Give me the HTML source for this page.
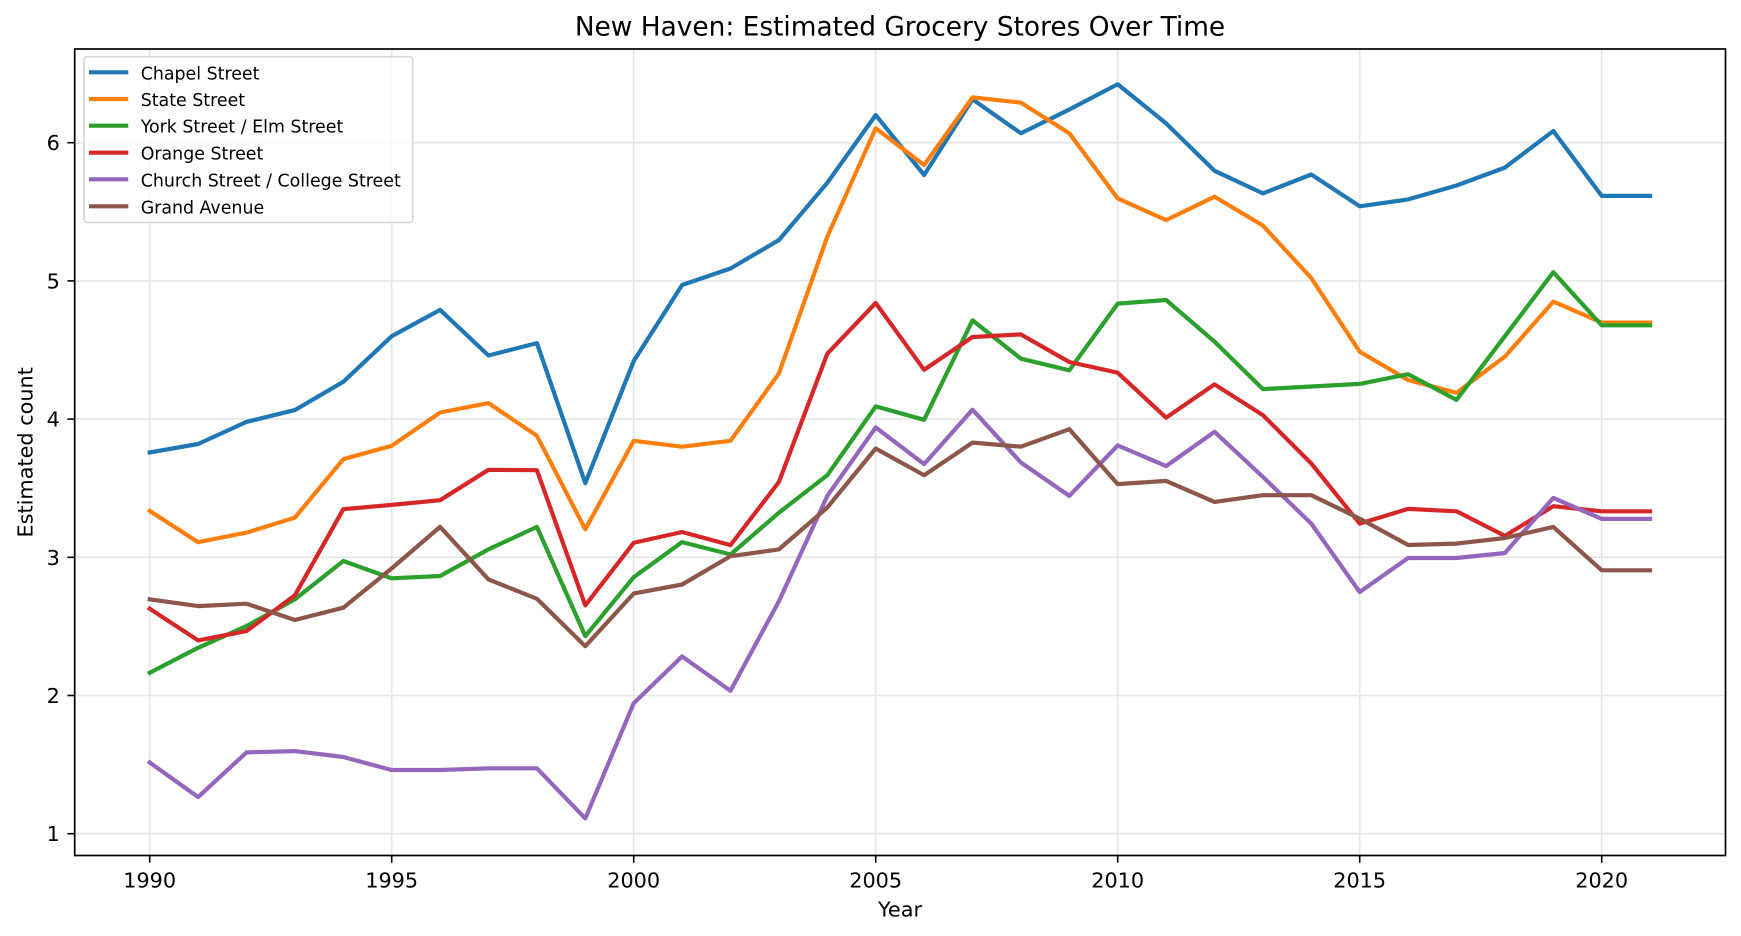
<!DOCTYPE html>
<html>
<head>
<meta charset="utf-8">
<style>
  html, body { margin: 0; padding: 0; background: #ffffff; }
  svg { display: block; }
  text { font-family: "DejaVu Sans", "Liberation Sans", sans-serif; fill: #000; }
</style>
</head>
<body>
<svg width="1741" height="936" viewBox="0 0 1741 936" xmlns="http://www.w3.org/2000/svg">
  <rect x="0" y="0" width="1741" height="936" fill="#ffffff"/>
  <defs>
    <clipPath id="ax">
      <rect x="74.7" y="49" width="1650.8" height="806.5"/>
    </clipPath>
  </defs>

  <!-- grid -->
  <g stroke="#e6e6e6" stroke-width="1.6">
    <line x1="149.7" y1="49" x2="149.7" y2="855.5"/>
    <line x1="391.7" y1="49" x2="391.7" y2="855.5"/>
    <line x1="633.7" y1="49" x2="633.7" y2="855.5"/>
    <line x1="875.7" y1="49" x2="875.7" y2="855.5"/>
    <line x1="1117.7" y1="49" x2="1117.7" y2="855.5"/>
    <line x1="1359.7" y1="49" x2="1359.7" y2="855.5"/>
    <line x1="1601.7" y1="49" x2="1601.7" y2="855.5"/>
    <line x1="74.7" y1="833.7" x2="1725.5" y2="833.7"/>
    <line x1="74.7" y1="695.5" x2="1725.5" y2="695.5"/>
    <line x1="74.7" y1="557.3" x2="1725.5" y2="557.3"/>
    <line x1="74.7" y1="419.1" x2="1725.5" y2="419.1"/>
    <line x1="74.7" y1="280.9" x2="1725.5" y2="280.9"/>
    <line x1="74.7" y1="142.7" x2="1725.5" y2="142.7"/>
  </g>

  <!-- series -->
  <g clip-path="url(#ax)" fill="none" stroke-width="4.2" stroke-linejoin="round" stroke-linecap="square">
    <polyline stroke="#1f77b4" points="149.7,452.5 198.1,444.0 246.5,421.9 294.9,410.1 343.3,381.8 391.7,336.2 440.1,309.9 488.5,355.5 536.9,343.1 585.3,483.2 633.7,361.1 682.1,285.0 730.5,268.5 778.9,240.1 827.3,182.8 875.7,115.1 924.1,175.0 972.5,99.3 1020.9,133.3 1069.3,109.5 1117.7,84.2 1166.1,123.4 1214.5,170.8 1262.9,193.4 1311.3,174.5 1359.7,206.3 1408.1,199.4 1456.5,185.5 1504.9,167.6 1553.3,131.0 1601.7,195.9 1650.1,195.9"/>
    <polyline stroke="#ff7f0e" points="149.7,510.9 198.1,542.2 246.5,532.6 294.9,517.6 343.3,459.2 391.7,445.8 440.1,412.5 488.5,403.1 536.9,435.8 585.3,529.3 633.7,440.8 682.1,446.7 730.5,440.8 778.9,373.5 827.3,236.7 875.7,128.3 924.1,165.1 972.5,97.4 1020.9,102.6 1069.3,133.3 1117.7,198.4 1166.1,220.1 1214.5,196.7 1262.9,225.6 1311.3,278.1 1359.7,351.7 1408.1,380.0 1456.5,392.8 1504.9,356.6 1553.3,301.6 1601.7,322.6 1650.1,322.6"/>
    <polyline stroke="#2ca02c" points="149.7,672.8 198.1,647.8 246.5,626.1 294.9,599.3 343.3,561.0 391.7,578.3 440.1,576.0 488.5,549.3 536.9,526.9 585.3,636.1 633.7,577.2 682.1,542.1 730.5,554.5 778.9,512.7 827.3,475.2 875.7,406.4 924.1,419.8 972.5,320.3 1020.9,358.7 1069.3,370.3 1117.7,303.6 1166.1,300.0 1214.5,341.6 1262.9,389.1 1311.3,386.5 1359.7,383.9 1408.1,374.2 1456.5,399.9 1504.9,336.2 1553.3,272.2 1601.7,325.3 1650.1,325.3"/>
    <polyline stroke="#d62728" points="149.7,608.7 198.1,640.4 246.5,631.1 294.9,595.3 343.3,509.2 391.7,504.9 440.1,500.2 488.5,469.8 536.9,470.2 585.3,605.4 633.7,542.8 682.1,532.0 730.5,545.1 778.9,482.0 827.3,353.7 875.7,303.0 924.1,369.8 972.5,337.0 1020.9,334.4 1069.3,362.0 1117.7,372.7 1166.1,417.7 1214.5,384.4 1262.9,415.1 1311.3,463.5 1359.7,523.6 1408.1,508.9 1456.5,511.3 1504.9,535.9 1553.3,506.2 1601.7,511.3 1650.1,511.3"/>
    <polyline stroke="#9467bd" points="149.7,762.5 198.1,797.1 246.5,752.4 294.9,751.1 343.3,757.0 391.7,770.0 440.1,770.0 488.5,768.3 536.9,768.3 585.3,818.4 633.7,703.2 682.1,656.4 730.5,690.8 778.9,601.2 827.3,495.9 875.7,427.4 924.1,464.1 972.5,409.7 1020.9,462.5 1069.3,495.9 1117.7,445.4 1166.1,466.1 1214.5,431.8 1262.9,476.9 1311.3,523.6 1359.7,592.0 1408.1,558.0 1456.5,558.0 1504.9,553.0 1553.3,497.9 1601.7,518.9 1650.1,518.9"/>
    <polyline stroke="#8c564b" points="149.7,599.3 198.1,606.1 246.5,603.7 294.9,620.0 343.3,607.7 391.7,568.4 440.1,526.9 488.5,579.4 536.9,598.8 585.3,646.2 633.7,593.5 682.1,584.5 730.5,556.2 778.9,549.4 827.3,507.5 875.7,448.5 924.1,475.2 972.5,442.6 1020.9,446.7 1069.3,429.2 1117.7,484.1 1166.1,480.9 1214.5,501.9 1262.9,495.2 1311.3,495.2 1359.7,518.6 1408.1,545.0 1456.5,543.6 1504.9,538.0 1553.3,526.9 1601.7,570.3 1650.1,570.3"/>
  </g>

  <!-- spines -->
  <rect x="74.7" y="49" width="1650.8" height="806.5" fill="none" stroke="#000" stroke-width="1.7"/>

  <!-- ticks -->
  <g stroke="#000" stroke-width="1.6">
    <line x1="149.7" y1="855.5" x2="149.7" y2="862.8"/>
    <line x1="391.7" y1="855.5" x2="391.7" y2="862.8"/>
    <line x1="633.7" y1="855.5" x2="633.7" y2="862.8"/>
    <line x1="875.7" y1="855.5" x2="875.7" y2="862.8"/>
    <line x1="1117.7" y1="855.5" x2="1117.7" y2="862.8"/>
    <line x1="1359.7" y1="855.5" x2="1359.7" y2="862.8"/>
    <line x1="1601.7" y1="855.5" x2="1601.7" y2="862.8"/>
    <line x1="67.4" y1="833.7" x2="74.7" y2="833.7"/>
    <line x1="67.4" y1="695.5" x2="74.7" y2="695.5"/>
    <line x1="67.4" y1="557.3" x2="74.7" y2="557.3"/>
    <line x1="67.4" y1="419.1" x2="74.7" y2="419.1"/>
    <line x1="67.4" y1="280.9" x2="74.7" y2="280.9"/>
    <line x1="67.4" y1="142.7" x2="74.7" y2="142.7"/>
  </g>

  <!-- tick labels -->
  <g font-size="20.8" text-anchor="middle">
    <text x="149.7" y="887.7">1990</text>
    <text x="391.7" y="887.7">1995</text>
    <text x="633.7" y="887.7">2000</text>
    <text x="875.7" y="887.7">2005</text>
    <text x="1117.7" y="887.7">2010</text>
    <text x="1359.7" y="887.7">2015</text>
    <text x="1601.7" y="887.7">2020</text>
  </g>
  <g font-size="20.8" text-anchor="end">
    <text x="59.8" y="841.2">1</text>
    <text x="59.8" y="703.0">2</text>
    <text x="59.8" y="564.8">3</text>
    <text x="59.8" y="426.6">4</text>
    <text x="59.8" y="288.4">5</text>
    <text x="59.8" y="150.2">6</text>
  </g>

  <!-- axis labels -->
  <text x="900" y="916.7" font-size="20.8" text-anchor="middle">Year</text>
  <text transform="translate(32.3,452.3) rotate(-90)" font-size="20.8" text-anchor="middle">Estimated count</text>

  <!-- title -->
  <text x="900" y="35.7" font-size="26.4" text-anchor="middle">New Haven: Estimated Grocery Stores Over Time</text>

  <!-- legend -->
  <rect x="84" y="56.7" width="328.7" height="165.8" rx="3" ry="3" fill="#ffffff" fill-opacity="0.8" stroke="#d6d6d6" stroke-width="1.6"/>
  <g stroke-width="4.2" stroke-linecap="square">
    <line x1="91.1" y1="72.3" x2="126.2" y2="72.3" stroke="#1f77b4"/>
    <line x1="91.1" y1="99.0" x2="126.2" y2="99.0" stroke="#ff7f0e"/>
    <line x1="91.1" y1="125.7" x2="126.2" y2="125.7" stroke="#2ca02c"/>
    <line x1="91.1" y1="152.7" x2="126.2" y2="152.7" stroke="#d62728"/>
    <line x1="91.1" y1="179.3" x2="126.2" y2="179.3" stroke="#9467bd"/>
    <line x1="91.1" y1="206.3" x2="126.2" y2="206.3" stroke="#8c564b"/>
  </g>
  <g font-size="17.4">
    <text x="140.7" y="79.3">Chapel Street</text>
    <text x="140.7" y="106.0">State Street</text>
    <text x="140.7" y="132.7">York Street / Elm Street</text>
    <text x="140.7" y="159.7">Orange Street</text>
    <text x="140.7" y="186.3">Church Street / College Street</text>
    <text x="140.7" y="213.3">Grand Avenue</text>
  </g>
</svg>
</body>
</html>
